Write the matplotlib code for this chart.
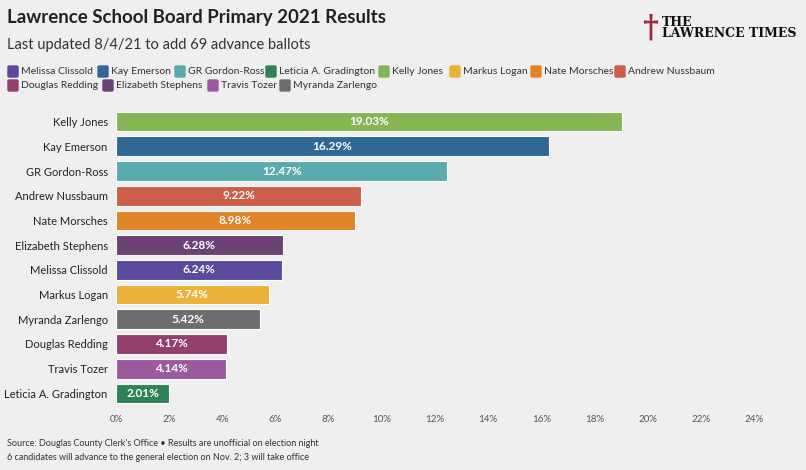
import matplotlib.pyplot as plt
from matplotlib.patches import FancyBboxPatch

plt.rcParams["font.family"] = ["Lato", "DejaVu Sans"]

candidates = ["Kelly Jones", "Kay Emerson", "GR Gordon-Ross", "Andrew Nussbaum", "Nate Morsches",
              "Elizabeth Stephens", "Melissa Clissold", "Markus Logan", "Myranda Zarlengo",
              "Douglas Redding", "Travis Tozer", "Leticia A. Gradington"]
shares = [19.03, 16.29, 12.47, 9.22, 8.98, 6.28, 6.24, 5.74, 5.42, 4.17, 4.14, 2.01]
colors = {"Melissa Clissold": "#5b4a9b", "Kay Emerson": "#2f6795", "GR Gordon-Ross": "#5aabad",
          "Leticia A. Gradington": "#2e8356", "Kelly Jones": "#85b555", "Markus Logan": "#ebb23a",
          "Nate Morsches": "#df8427", "Andrew Nussbaum": "#cc5f4a", "Douglas Redding": "#923f6e",
          "Elizabeth Stephens": "#6c4275", "Travis Tozer": "#9b5a9e", "Myranda Zarlengo": "#6d6d6d"}
legend_order = ["Melissa Clissold", "Kay Emerson", "GR Gordon-Ross", "Leticia A. Gradington",
                "Kelly Jones", "Markus Logan", "Nate Morsches", "Andrew Nussbaum",
                "Douglas Redding", "Elizabeth Stephens", "Travis Tozer", "Myranda Zarlengo"]
xticks = [0, 2, 4, 6, 8, 10, 12, 14, 16, 18, 20, 22, 24]

W, H = 806, 470
fig = plt.figure(figsize=(W / 100, H / 100), dpi=100, facecolor="#efefef")
ax = fig.add_axes([116 / W, 1 - 407 / H, (754 - 116) / W, (407 - 108) / H])
ax.set_facecolor("#efefef")

y = list(range(len(candidates)))
ax.barh(y, shares, height=0.8, color=[colors[c] for c in candidates],
        edgecolor="white", linewidth=0.8)
for yi, v in zip(y, shares):
    ax.text(v / 2, yi, f"{v:.2f}%", ha="center", va="center", color="white",
            fontsize=8.5, fontweight="bold")
ax.set_yticks(y)
ax.set_yticklabels(candidates, fontsize=8, color="#222222")
ax.set_ylim(len(candidates) - 0.45, -0.55)
ax.set_xlim(0, 24)
ax.set_xticks(xticks)
ax.set_xticklabels([f"{t}%" for t in xticks], fontsize=7, color="#555555")
ax.tick_params(length=0, pad=6)
for s in ax.spines.values():
    s.set_visible(False)

fig.text(7 / W, 1 - 18 / H, "Lawrence School Board Primary 2021 Results", fontsize=13.5,
         fontweight="bold", color="#222222", va="center")
fig.text(7 / W, 1 - 45 / H, "Last updated 8/4/21 to add 69 advance ballots", fontsize=10.5,
         color="#333333", va="center")
# masthead
fig.text(650 / W, 1 - 28 / H, "\u2020", fontsize=22, color="#9e2a3a", va="center", ha="center",
         fontweight="bold", family="DejaVu Serif")
fig.text(662 / W, 1 - 28 / H, "THE\nLAWRENCE TIMES", fontsize=9, family="DejaVu Serif",
         fontweight="bold", color="#111111", va="center", linespacing=0.8)

xs_row = [[8, 98, 175, 266, 379, 450, 531, 615], [8, 103, 208, 280]]
ys_row = [72, 86]
k = 0
for xs, yr in zip(xs_row, ys_row):
    for xp in xs:
        name = legend_order[k]
        k += 1
        fig.patches.append(FancyBboxPatch((xp / W, 1 - (yr + 5) / H), 10 / W, 11 / H,
                                          boxstyle="round,pad=0,rounding_size=0.002",
                                          transform=fig.transFigure, color=colors[name]))
        fig.text((xp + 13) / W, 1 - yr / H, name, fontsize=7.5, color="#333333", va="center")

fig.text(7 / W, 1 - 443 / H, "Source: Douglas County Clerk's Office \u2022 Results are unofficial on election night",
         fontsize=6.5, color="#333333", va="center")
fig.text(7 / W, 1 - 457 / H, "6 candidates will advance to the general election on Nov. 2; 3 will take office",
         fontsize=6.5, color="#333333", va="center")

fig.savefig("out.png", dpi=100, facecolor=fig.get_facecolor())
